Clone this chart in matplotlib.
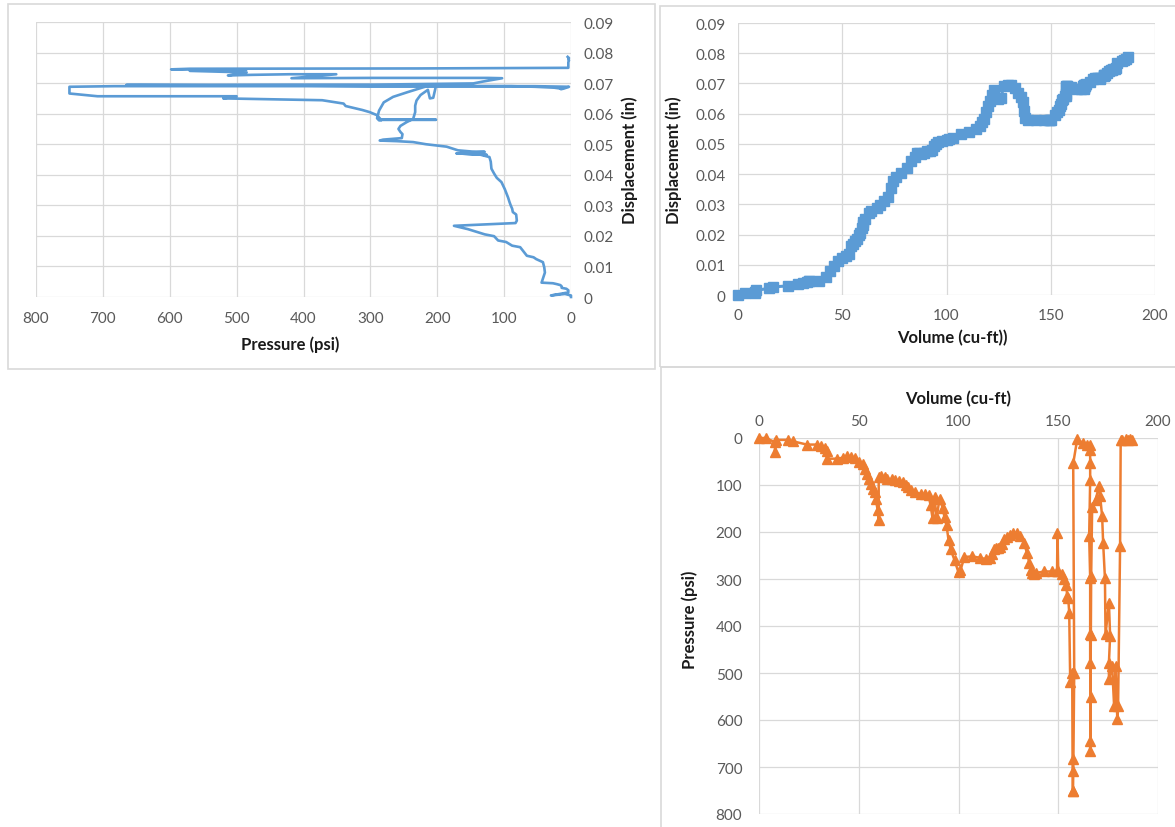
import matplotlib
matplotlib.use("Agg")
import matplotlib.pyplot as plt
from matplotlib.patches import Rectangle
from matplotlib.ticker import FuncFormatter, MultipleLocator

plt.rcParams['font.family'] = ['Lato', 'DejaVu Sans']

# test record, one entry per reading (time order)
volume = [0, 3.5, 8, 8, 8.5, 14.7, 17, 24, 29, 31, 33, 34, 34, 39, 42, 44, 46, 48, 50, 52,
          53, 54, 55, 56, 57, 58, 58.5, 59.5, 60, 60, 61, 63, 64, 66.5, 68, 70, 72, 73.5, 74.5, 76,
          78, 81, 83, 85, 86, 87, 88, 89, 90.5, 92, 93, 94, 95, 96, 98, 100, 101, 103, 107, 111,
          114, 116, 117, 118, 119, 120, 121, 122, 123, 124.5, 126, 127.5, 129.5, 131, 132.7, 134.4, 135.5, 136.5, 137, 137.7,
          139, 143, 147, 149.4, 149.6, 150, 152, 153, 154, 154.5, 155, 155.5, 156, 157, 157.2, 157.3, 157.4, 157.6, 158, 157.5,
          159.5, 162.5, 164.5, 166, 166, 166, 166, 165.5, 166, 166, 166, 166.2, 166, 166, 166.3, 166.5, 167, 168.7, 170.4, 171,
          172, 172.5, 173.4, 173.7, 175.4, 176, 175.4, 175.4, 177, 178, 178.7, 179.6, 180, 181, 181.3, 182, 184, 185, 186, 187]

pressure = [0, 0, 9, 30, 4, 4, 7, 14, 14, 16, 21, 27, 44, 44, 42, 39, 40, 42, 52, 56,
            66, 76, 88, 97, 109, 115, 129, 154, 175, 83, 81, 82, 87, 88, 90, 92, 94, 99, 104, 111,
            115, 119, 120, 122, 143, 171, 126, 171, 129, 148, 169, 186, 217, 236, 260, 286, 281, 253, 252, 255,
            258, 255, 246, 236, 233, 233, 231, 225, 214, 211, 206, 202, 203, 209, 223, 245, 266, 280, 287, 290,
            287, 284, 284, 284, 202, 284, 290, 301, 312, 337, 340, 372, 520, 500, 708, 750, 750, 683, 499, 54,
            3, 11, 15, 15, 25, 54, 89, 209, 298, 418, 478, 552, 644, 665, 420, 294, 146, 132, 103, 124,
            167, 223, 298, 418, 351, 421, 478, 513, 485, 570, 485, 598, 570, 230, 4, 4, 3, 4, 3, 5]

displacement = [0.0, 0.0005, 0.001, 0.0005, 0.0015, 0.0022, 0.0027, 0.003, 0.0035, 0.0039,
                0.0042, 0.0045, 0.0047, 0.0047, 0.006, 0.008, 0.0097, 0.0114, 0.0124, 0.013,
                0.0135, 0.0163, 0.0168, 0.018, 0.0185, 0.0199, 0.0205, 0.0222, 0.0233, 0.0242,
                0.025, 0.027, 0.0278, 0.0289, 0.0299, 0.0311, 0.0325, 0.0353, 0.0376, 0.039,
                0.0404, 0.042, 0.0443, 0.0458, 0.047, 0.047, 0.0465, 0.047, 0.0475, 0.0476,
                0.048, 0.0492, 0.05, 0.0507, 0.051, 0.0512, 0.0515, 0.052, 0.0533, 0.054,
                0.055, 0.056, 0.0572, 0.0583, 0.0605, 0.0626, 0.0643, 0.0661, 0.0678, 0.065,
                0.0652, 0.069, 0.0694, 0.0694, 0.0685, 0.067, 0.0655, 0.0637, 0.061, 0.0585,
                0.0578, 0.0578, 0.0578, 0.058, 0.058, 0.058, 0.0595, 0.0605, 0.0612, 0.0625,
                0.0633, 0.0644, 0.065, 0.0657, 0.0657, 0.0666, 0.0688, 0.069, 0.069, 0.069,
                0.0688, 0.0682, 0.068, 0.0682, 0.0685, 0.0688, 0.069, 0.069, 0.069, 0.0692,
                0.0692, 0.0693, 0.0694, 0.0694, 0.0695, 0.0695, 0.0699, 0.0705, 0.0716, 0.0717,
                0.0717, 0.0717, 0.0717, 0.0716, 0.0729, 0.0729, 0.0727, 0.0725, 0.0735, 0.074,
                0.0745, 0.0745, 0.0747, 0.0748, 0.075, 0.0768, 0.0775, 0.0778, 0.0782, 0.0786]

W, H = 1175, 828
BLUE = '#5B9BD5'
ORANGE = '#ED7D31'
GRID = '#D9D9D9'
TICK = '#595959'


def box(l, t, r, b):
    return [l / W, 1 - b / H, (r - l) / W, (b - t) / H]


def frame(l, t, r, b):
    fig.add_artist(Rectangle((l / W, 1 - b / H), (r - l) / W, (b - t) / H,
                             transform=fig.transFigure, fill=False,
                             edgecolor=GRID, lw=1.2))


def style(ax, xpad, ypad):
    for s in ax.spines.values():
        s.set_visible(False)
    ax.grid(True, color=GRID, lw=0.9)
    ax.set_axisbelow(True)
    ax.tick_params(length=0, labelsize=11, labelcolor=TICK)
    ax.tick_params(axis='x', pad=xpad)
    ax.tick_params(axis='y', pad=ypad)
    fmt = FuncFormatter(lambda v, p: f"{v:g}")
    ax.xaxis.set_major_formatter(fmt)
    ax.yaxis.set_major_formatter(fmt)


def titles(ax, xtext, xpos, ytext, ypos):
    ax.set_xlabel(xtext, fontsize=12, fontweight='bold', color='#1a1a1a')
    ax.set_ylabel(ytext, fontsize=12, fontweight='bold', color='#1a1a1a')
    ax.xaxis.set_label_coords(*xpos)
    ax.yaxis.set_label_coords(*ypos)
    ax.xaxis.label.set_va('center')
    ax.yaxis.label.set_va('center')


fig = plt.figure(figsize=(W / 100, H / 100), dpi=100)

frame(8, 5, 655, 370)
frame(660, 7, 1180, 368)
frame(661, 368, 1180, 835)

# pressure vs displacement
ax1 = fig.add_axes(box(36, 23, 571, 298))
style(ax1, 10, 9)
ax1.plot(pressure, displacement, color=BLUE, lw=1.9, clip_on=False)
ax1.set_xlim(800, 0)
ax1.set_ylim(0, 0.09)
ax1.xaxis.set_major_locator(MultipleLocator(100))
ax1.yaxis.set_major_locator(MultipleLocator(0.01))
ax1.yaxis.tick_right()
ax1.yaxis.set_label_position('right')
titles(ax1, 'Pressure (psi)', (0.475, -0.171), 'Displacement (in)', (1.11, 0.502))

# volume vs displacement
ax2 = fig.add_axes(box(738, 24, 1155, 296))
style(ax2, 9, 9)
ax2.plot(volume, displacement, color=BLUE, lw=2.2, marker='s', ms=7.5,
         clip_on=False)
ax2.set_xlim(0, 200)
ax2.set_ylim(0, 0.09)
ax2.xaxis.set_major_locator(MultipleLocator(50))
ax2.yaxis.set_major_locator(MultipleLocator(0.01))
titles(ax2, 'Volume (cu-ft))', (0.513, -0.154), 'Displacement (in)', (-0.153, 0.5))

# volume vs pressure
ax3 = fig.add_axes(box(759, 439, 1158, 815))
style(ax3, 7, 12)
ax3.plot(volume, pressure, color=ORANGE, lw=1.8, marker='^', ms=6.5,
         clip_on=False)
ax3.set_xlim(0, 200)
ax3.set_ylim(800, 0)
ax3.xaxis.set_major_locator(MultipleLocator(50))
ax3.yaxis.set_major_locator(MultipleLocator(100))
ax3.xaxis.tick_top()
ax3.xaxis.set_label_position('top')
titles(ax3, 'Volume (cu-ft)', (0.499, 1.106), 'Pressure (psi)', (-0.173, 0.519))

fig.savefig('out.png', dpi=100)
